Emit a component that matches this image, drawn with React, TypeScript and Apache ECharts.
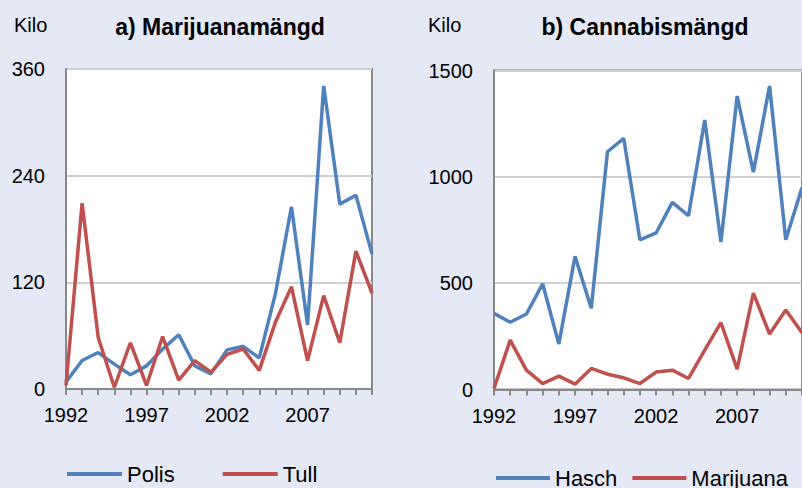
import React, { useEffect, useRef } from "react";
import * as echarts from "echarts";

const years = ["1992","1993","1994","1995","1996","1997","1998","1999","2000","2001","2002","2003","2004","2005","2006","2007","2008","2009","2010","2011"];
const polis = [8, 32, 41, 28, 16, 26, 45, 61, 26, 17, 44, 48, 35, 107, 205, 72, 341, 208, 218, 152];
const tull = [4, 209, 58, 2, 52, 4, 59, 10, 32, 19, 39, 45, 21, 75, 115, 32, 105, 52, 155, 108];
const hasch = [358, 316, 355, 497, 214, 626, 382, 1118, 1181, 704, 736, 880, 817, 1267, 693, 1380, 1022, 1427, 704, 950];
const marijuana = [5, 232, 91, 28, 63, 25, 99, 72, 55, 28, 82, 91, 52, 185, 314, 96, 453, 261, 374, 267];
const leftTicks = { min: 0, max: 360, interval: 120 };
const rightTicks = { min: 0, max: 1500, interval: 500 };

const FONT = "'Liberation Sans', Arial, sans-serif";
const BLUE = "#4F81BD";
const RED = "#C0504D";
const BG = "#E5E9F5";

export default function App() {
  const ref = useRef<HTMLDivElement>(null);
  useEffect(() => {
    document.body.style.margin = "0";
    document.body.style.background = BG;
    if (!ref.current) return;
    const chart = echarts.init(ref.current, undefined, { renderer: "svg" });
    const xAxisBase = (gridIndex: number) => ({
      type: "category" as const,
      gridIndex,
      data: years,
      boundaryGap: false,
      axisLine: { show: true, lineStyle: { color: "#888", width: 2 } },
      axisTick: { show: true, interval: 0, length: 6, lineStyle: { color: "#888", width: 2 } },
      axisLabel: { interval: 4, fontSize: 20, color: "#000", fontFamily: FONT, margin: 16 },
      splitLine: { show: false },
    });
    const yAxisBase = (gridIndex: number, t: { min: number; max: number; interval: number }) => ({
      type: "value" as const,
      gridIndex,
      min: t.min,
      max: t.max,
      interval: t.interval,
      axisLine: { show: true, lineStyle: { color: "#888", width: 2 } },
      axisTick: { show: false },
      axisLabel: { fontSize: 20, color: "#000", fontFamily: FONT, margin: 21, formatter: (v: number) => String(v) },
      splitLine: { show: true, lineStyle: { color: "#d0d0d0", width: 2 } },
    });
    const line = (name: string, data: number[], color: string, idx: number) => ({
      name,
      type: "line" as const,
      data,
      xAxisIndex: idx,
      yAxisIndex: idx,
      symbol: "none",
      lineStyle: { color, width: 3.5 },
      itemStyle: { color },
    });
    const legendText = { fontSize: 22, color: "#000", fontFamily: FONT };
    chart.setOption({
      animation: false,
      backgroundColor: BG,
      textStyle: { fontFamily: FONT },
      grid: [
        { left: 66, top: 69, width: 306, height: 320, show: true, backgroundColor: "#fff", borderColor: "#888", borderWidth: 2 },
        { left: 494, top: 70.5, width: 309, height: 319, show: true, backgroundColor: "#fff", borderColor: "#888", borderWidth: 2 },
      ],
      xAxis: [xAxisBase(0), xAxisBase(1)],
      yAxis: [yAxisBase(0, leftTicks), yAxisBase(1, rightTicks)],
      legend: [
        {
          data: ["Polis", "Tull"],
          left: 67,
          top: 463,
          icon: "rect",
          itemWidth: 55,
          itemHeight: 4,
          itemGap: 48,
          padding: 0,
          textStyle: legendText,
        },
        {
          data: ["Hasch", "Marijuana"],
          left: 496,
          top: 467,
          icon: "rect",
          itemWidth: 54,
          itemHeight: 4,
          itemGap: 15,
          padding: 0,
          textStyle: legendText,
        },
      ],
      graphic: [
        { type: "text", x: 14, y: 25, style: { text: "Kilo", fontSize: 20, fill: "#000", fontFamily: FONT, textVerticalAlign: "middle" } },
        { type: "text", x: 428, y: 25, style: { text: "Kilo", fontSize: 20, fill: "#000", fontFamily: FONT, textVerticalAlign: "middle" } },
        { type: "text", x: 220, y: 27, style: { text: "a) Marijuanamängd", fontSize: 23, fontWeight: "bold", fill: "#000", fontFamily: FONT, textAlign: "center", textVerticalAlign: "middle" } },
        { type: "text", x: 645, y: 27, style: { text: "b) Cannabismängd", fontSize: 23, fontWeight: "bold", fill: "#000", fontFamily: FONT, textAlign: "center", textVerticalAlign: "middle" } },
      ],
      series: [
        line("Polis", polis, BLUE, 0),
        line("Tull", tull, RED, 0),
        line("Hasch", hasch, BLUE, 1),
        line("Marijuana", marijuana, RED, 1),
      ],
    });
    return () => chart.dispose();
  }, []);
  return <div ref={ref} style={{ width: 802, height: 488 }} />;
}
